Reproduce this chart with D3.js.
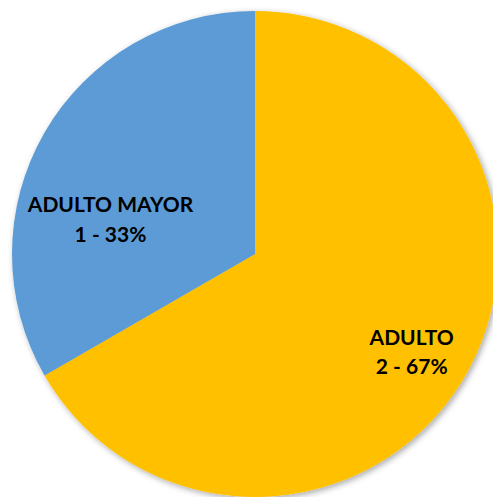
<!DOCTYPE html>
<html lang="es">
<head>
  <meta charset="UTF-8">
  <title>Pie Adulto / Adulto Mayor</title>
  <script src="https://d3js.org/d3.v7.min.js"></script>
  <style>
    html, body {
      margin: 0;
      padding: 0;
      background: #fff;
      overflow: hidden;
    }
    svg {
      display: block;
    }
  </style>
</head>
<body>
  <div id="chart"></div>

  <script>
    // data
    const categories = ["ADULTO", "ADULTO MAYOR"];
    const values = [2, 1];
    const colors = ["#FFC000", "#5B9BD5"];

    const width = 493;
    const height = 497;
    const cx = 255, cy = 254;
    const radius = 243;

    // where each label sits (angle from 12 o'clock, clockwise, and distance from centre)
    const labelSpots = [
      { angle: 124.0, dist: 189 },
      { angle: 280.6, dist: 147 }
    ];

    const pieData = categories.map((c, i) => ({ label: c, value: values[i] }));
    const total = d3.sum(values);

    const svg = d3.select("#chart")
      .append("svg")
      .attr("width", width)
      .attr("height", height);

    const defs = svg.append("defs");
    const shadow = defs.append("filter")
      .attr("id", "shadow")
      .attr("x", "-10%").attr("y", "-10%")
      .attr("width", "120%").attr("height", "120%");
    shadow.append("feDropShadow")
      .attr("dx", 2).attr("dy", 2)
      .attr("stdDeviation", 3)
      .attr("flood-color", "#000")
      .attr("flood-opacity", 0.35);

    const g = svg.append("g")
      .attr("transform", `translate(${cx}, ${cy})`);

    const color = d3.scaleOrdinal()
      .domain(categories)
      .range(colors);

    const pie = d3.pie()
      .sort(null)
      .value(d => d.value);

    const arc = d3.arc()
      .innerRadius(0)
      .outerRadius(radius);

    const dataReady = pie(pieData);

    g.append("g")
      .attr("filter", "url(#shadow)")
      .selectAll("path")
      .data(dataReady)
      .enter()
      .append("path")
      .attr("d", arc)
      .attr("fill", d => color(d.data.label));

    const labels = g.selectAll(".lbl")
      .data(dataReady)
      .enter()
      .append("text")
      .attr("class", "lbl")
      .attr("transform", (d, i) => {
        const a = labelSpots[i].angle * Math.PI / 180;
        const r = labelSpots[i].dist;
        return `translate(${r * Math.sin(a)}, ${-r * Math.cos(a)})`;
      })
      .style("text-anchor", "middle")
      .style("font-family", "Lato, 'Open Sans', sans-serif")
      .style("font-weight", "bold")
      .style("font-size", "21px")
      .style("fill", "#000");

    labels.append("tspan")
      .attr("x", 0)
      .attr("dy", "-0.7em")
      .text(d => d.data.label);

    labels.append("tspan")
      .attr("x", 0)
      .attr("dy", "1.4em")
      .text(d => `${d.data.value} - ${Math.round(d.data.value / total * 100)}%`);
  </script>
</body>
</html>
